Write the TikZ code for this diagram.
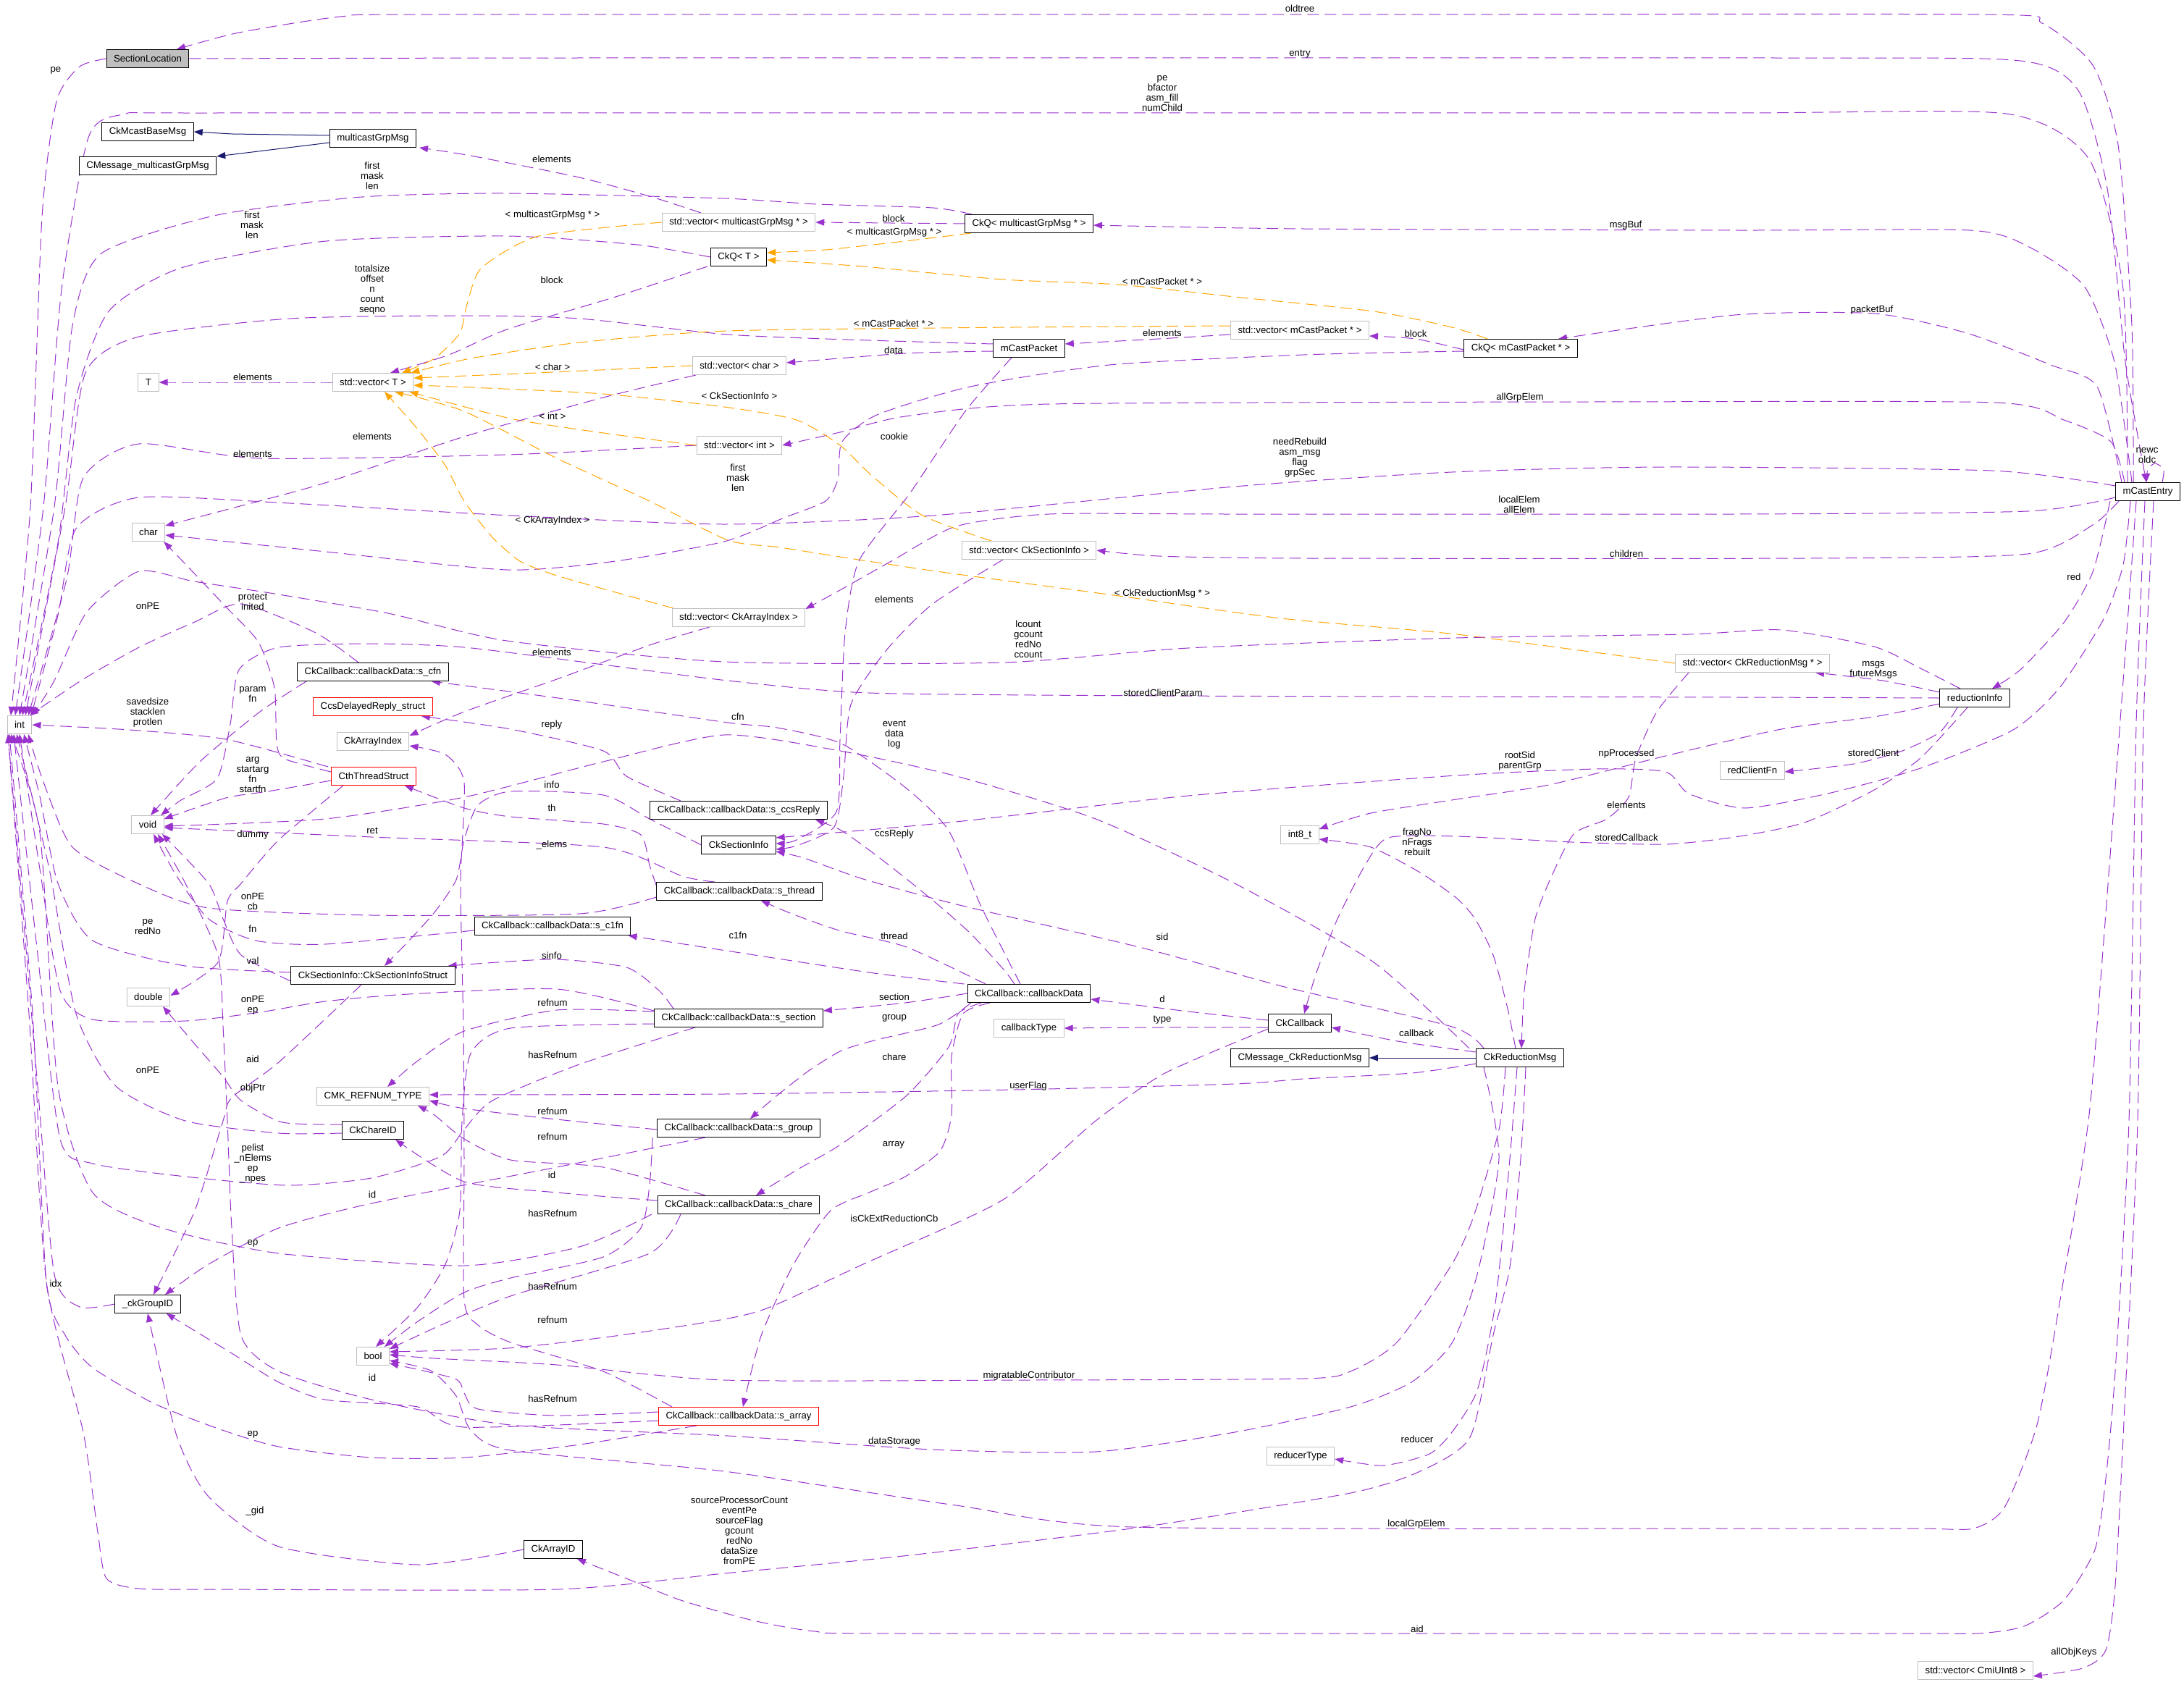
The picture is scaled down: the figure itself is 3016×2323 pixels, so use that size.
\documentclass[tikz,border=0pt]{standalone}
\usepackage{fontspec}
\setmainfont{Liberation Sans}
\usetikzlibrary{arrows.meta}
\pgfdeclarelayer{bg}
\pgfsetlayers{bg,main}
\definecolor{pur}{HTML}{9A32CD}
\definecolor{org}{HTML}{FFA500}
\definecolor{navyb}{HTML}{191970}
\definecolor{gbord}{HTML}{BFBFBF}
\tikzset{
 box/.style={draw=black, line width=0.5pt, fill=white, inner xsep=5pt, inner ysep=0pt, minimum height=12.5pt, font=\fontsize{6.6}{7}\selectfont},
 gbox/.style={box, draw=gbord},
 rbox/.style={box, draw=red},
 lbl/.style={font=\fontsize{6.6}{7}\selectfont, align=center, inner sep=0pt},
 e/.style={draw=pur, line width=0.5pt, dash pattern=on 8pt off 4pt, -{Triangle[length=6pt,width=4.5pt]}},
 eo/.style={e, draw=org},
 inh/.style={draw=navyb, line width=0.5pt, -{Triangle[length=6pt,width=4.5pt]}},
}
\newcommand{\cedge}[2][e]{\draw[#1] plot[smooth,tension=0.4] coordinates {#2};}
\newcommand{\lab}[3]{\node[lbl] (#1) at (#2) {#3};}
\begin{document}
\begin{tikzpicture}[x=0.5pt,y=-0.5pt]
\useasboundingbox (0,0) rectangle (3016,2323);
% ---------------- nodes
\node[box, fill=gbord] (SL) at (204,81) {SectionLocation};
\node[box] (CMB) at (204,182) {CkMcastBaseMsg};
\node[box] (CMM) at (204,229) {CMessage\_multicastGrpMsg};
\node[box] (MGM) at (515,191) {multicastGrpMsg};
\node[gbox] (VMG) at (1020,307) {std::vector< multicastGrpMsg * >};
\node[box] (QMG) at (1421,309) {CkQ< multicastGrpMsg * >};
\node[box] (QT) at (1020,355) {CkQ< T >};
\node[gbox] (T) at (205,528) {T};
\node[gbox] (VT) at (515,528) {std::vector< T >};
\node[gbox] (VC) at (1021,505) {std::vector< char >};
\node[box] (MCP) at (1421,481) {mCastPacket};
\node[gbox] (VMP) at (1795,456) {std::vector< mCastPacket * >};
\node[box] (QMP) at (2100,481) {CkQ< mCastPacket * >};
\node[gbox] (VI) at (1021,615) {std::vector< int >};
\node[gbox] (CH) at (205,735) {char};
\node[box] (ME) at (2966,679) {mCastEntry};
\node[gbox] (VCSI) at (1421,760) {std::vector< CkSectionInfo >};
\node[gbox] (VCAI) at (1020,853) {std::vector< CkArrayIndex >};
\node[gbox] (INT) at (27,1001) {int};
\node[box] (SCFN) at (515,928) {CkCallback::callbackData::s\_cfn};
\node[rbox] (CDR) at (515,976) {CcsDelayedReply\_struct};
\node[gbox] (CAI) at (515,1024) {CkArrayIndex};
\node[rbox] (CTS) at (516,1072) {CthThreadStruct};
\node[gbox] (VOID) at (204,1139) {void};
\node[box] (SCR) at (1020,1119) {CkCallback::callbackData::s\_ccsReply};
\node[box] (CSI) at (1020,1167) {CkSectionInfo};
\node[box] (STH) at (1021,1231) {CkCallback::callbackData::s\_thread};
\node[box] (SC1) at (763,1279) {CkCallback::callbackData::s\_c1fn};
\node[box] (CSIS) at (515,1347) {CkSectionInfo::CkSectionInfoStruct};
\node[gbox] (DBL) at (205,1377) {double};
\node[box] (CBD) at (1421,1372) {CkCallback::callbackData};
\node[box] (SSEC) at (1020,1406) {CkCallback::callbackData::s\_section};
\node[gbox] (CBT) at (1421,1420) {callbackType};
\node[box] (CKCB) at (1795,1413) {CkCallback};
\node[box] (CMR) at (1795,1461) {CMessage\_CkReductionMsg};
\node[box] (CRM) at (2099,1461) {CkReductionMsg};
\node[gbox] (I8) at (1795,1153) {int8\_t};
\node[gbox] (VCRM) at (2420,916) {std::vector< CkReductionMsg * >};
\node[box] (RI) at (2727,964) {reductionInfo};
\node[gbox] (RCF) at (2420,1064) {redClientFn};
\node[gbox] (CMK) at (515,1514) {CMK\_REFNUM\_TYPE};
\node[box] (CID) at (515,1561) {CkChareID};
\node[box] (SGRP) at (1020,1558) {CkCallback::callbackData::s\_group};
\node[box] (SCHR) at (1020,1664) {CkCallback::callbackData::s\_chare};
\node[box] (GID) at (204,1801) {\_ckGroupID};
\node[gbox] (BOOL) at (515,1873) {bool};
\node[rbox] (SARR) at (1020,1956) {CkCallback::callbackData::s\_array};
\node[box] (CAID) at (764,2140) {CkArrayID};
\node[gbox] (RT) at (1796,2011) {reducerType};
\node[gbox] (VCMI) at (2728,2307) {std::vector< CmiUInt8 >};
% ---------------- edges
\begin{pgfonlayer}{bg}
\fill[white] (0,0) rectangle (3016,2323);
% mCastEntry fan
\cedge{([xshift=-10pt]ME.north) (2944,450) (2925,200) (2890,90) (2820,32) (2740,20) (1800,20) (600,20) (470,23) (330,45) ([xshift=20pt]SL.north)}
\cedge{(SL.east) (800,80) (2450,80) (2790,84) (2870,125) (2910,260) (2935,500) ([xshift=-1pt]ME.north)}
\cedge{(SL.west) (110,92) (78,140) (58,300) (42,700) ([xshift=-6pt]INT.north)}
\cedge{([xshift=-14pt]ME.north) (2932,400) (2885,220) (2770,157) (2400,156) (1600,156) (300,156) (170,158) (122,190) (85,400) (60,700) ([xshift=-3pt]INT.north)}
\cedge{([xshift=5pt]QMG.north west) (1288,287) (1128,282) (1000,274) (700,267) (500,272) (300,297) (140,350) (100,450) (75,700) (INT.north)}
\cedge{(QT.west) (880,338) (700,326) (450,333) (250,370) (150,430) (105,550) (80,750) ([xshift=2pt]INT.north)}
\cedge{([yshift=3pt]MCP.west) (1200,470) (1005,462) (800,440) (641,436) (400,440) (192,465) (118,515) (90,700) ([xshift=4pt]INT.north)}
\cedge{(VI.west) (700,628) (359,633) (192,613) (115,660) (92,800) ([xshift=6pt]INT.north)}
\cedge{([yshift=4pt]ME.west) (2750,650) (2300,645) (2005,652) (1705,672) (1288,712) (1000,724) (705,712) (400,695) (192,687) (105,730) (80,850) ([xshift=8pt]INT.north)}
\cedge{([yshift=-2pt]QMP.west) (1800,490) (1532,504) (1340,534) (1211,573) (1163,610) (1157,662) (1140,692) (1083,715) (1000,748) (850,775) (700,787) (450,762) ([yshift=-2pt]CH.east)}
\cedge{([xshift=-16pt]ME.north) (2915,610) (2850,580) (2755,556) (2200,555) (1450,558) (1250,575) (1160,597) (VI.east)}
\cedge{([yshift=-4pt]ME.west) (2800,706) (2400,710) (1700,710) (1449,710) (1320,727) (1231,775) (1160,815) ([yshift=6pt]VCAI.east)}
\cedge{([xshift=-20pt]ME.south) (2890,725) (2800,765) (2500,771) (1800,771) (1600,768) (VCSI.east)}
\cedge{([xshift=-26pt]ME.south) (2890,790) (2850,860) (2790,925) ([xshift=12pt]RI.north)}
\cedge{([xshift=-12pt]ME.south) (2932,780) (2905,855) (2844,950) (2780,1008) (2652,1061) (2524,1096) (2409,1116) (2332,1096) (2300,1066) (2204,1062) (2011,1071) (1641,1099) (1320,1135) ([yshift=5pt]CSI.east)}
\cedge{([xshift=-8pt]ME.south) (2935,900) (2905,1300) (2884,1548) (2845,1795) (2813,1968) (2768,2082) (2725,2111) (2650,2111) (2400,2111) (1564,2109) (1320,2079) (1000,2032) (705,2003) (650,1975) (630,1928) (595,1893) ([yshift=-3pt]BOOL.east)}
\cedge{([xshift=-2pt]ME.south) (2950,1000) (2940,1548) (2921,1894) (2908,2042) (2893,2140) (2850,2210) (2795,2246) (2730,2256) (2600,2256) (1250,2256) (1125,2253) (1040,2238) (940,2210) (860,2178) ([xshift=-4pt]CAID.south east)}
\cedge{([xshift=4pt]ME.south) (2960,1000) (2952,1548) (2934,1943) (2921,2190) (2908,2279) (2876,2304) ([yshift=-4pt]VCMI.east)}
\cedge{([xshift=10pt]ME.north) (2988,648) (2976,640) (2966,648) ([xshift=-1pt]ME.north)}
\cedge{([xshift=-11pt]ME.north) (2920,500) (2878,395) (2800,340) (2720,318) (2400,318) (1800,316) ([yshift=-1pt]QMG.east)}
\cedge{([xshift=-18pt]ME.north) (2896,534) (2832,504) (2716,460) (2588,433) (2396,435) ([xshift=26pt]QMP.north)}
% top middle
\cedge{([yshift=-1pt]QMP.west) (1955,468) ([yshift=-4pt]VMP.east)}
\cedge{([yshift=-3pt]VMP.west) (1600,468) ([yshift=3pt]MCP.east)}
\cedge{([yshift=-2pt]MCP.west) (1250,488) ([yshift=2pt]VC.east)}
\cedge{(QMG.west) (1230,308) (VMG.east)}
\cedge{([xshift=-26pt]VMG.north) (900,272) (800,245) (650,215) ([xshift=2pt]MGM.south east)}
\cedge{([xshift=-2pt]QT.south west) (850,410) (700,455) (620,490) ([xshift=12pt]VT.north)}
\cedge[eo]{(VMG.west) (744,326) (665,370) (645,420) (635,460) (600,495) ([xshift=20pt]VT.north)}
\cedge[eo]{([xshift=-40pt]QMG.south) (1250,333) (1140,345) ([yshift=3pt]QT.east)}
\cedge[eo]{([xshift=-23pt]QMP.north) (2005,452) (1897,430) (1705,410) (1545,393) (1385,386) (1192,368) ([yshift=-2pt]QT.east)}
\cedge[eo]{([yshift=3pt]VMP.west) (1400,452) (1005,457) (800,473) (650,495) ([xshift=-2pt]VT.north east)}
\cedge[eo]{(VC.west) (763,514) ([yshift=3pt]VT.east)}
\cedge[eo]{([xshift=-26pt]VCSI.north) (1274,712) (1204,657) (1160,615) (1100,580) (1000,562) (833,544) (650,535) ([yshift=-2pt]VT.east)}
\cedge[eo]{(VI.west) (833,598) (705,578) ([xshift=-3pt]VT.south east)}
\cedge[eo]{(VCRM.west) (2011,876) (1769,854) (1538,822) (1300,790) (1179,772) (1077,756) (1005,746) (897,692) (769,633) (641,568) ([xshift=15pt]VT.south)}
\cedge[eo]{([xshift=-45pt]VCAI.north) (850,818) (769,795) (718,775) (679,741) (641,692) (615,643) (577,593) ([xshift=8pt]VT.south)}
\cedge{(VT.west) (350,528) (T.east)}
\cedge{([xshift=-30pt]VC.south) (833,549) (641,603) (449,667) (320,702) ([yshift=-2pt]CH.north east)}
\cedge{([xshift=-20pt]VCAI.south) (900,890) (769,938) (641,983) ([yshift=4pt]CAI.east)}
\cedge{([xshift=-12pt]MCP.south) (1333,568) (1256,682) (1186,775) (1167,874) (1160,1022) (1155,1121) (1100,1160) ([yshift=1pt]CSI.east)}
\cedge{([xshift=-18pt]VCSI.south) (1288,834) (1224,898) (1175,973) (1165,1072) (1152,1142) (1100,1168) ([yshift=-3pt]CSI.east)}
\cedge{([xshift=-25pt]CRM.north) (2005,1418) (1770,1362) (1577,1309) (1321,1249) (1192,1214) (1110,1185) ([yshift=2pt]CSI.south east)}
\cedge{([xshift=-35pt]CRM.north) (1897,1329) (1705,1220) (1513,1131) (1321,1072) (1160,1037) (1000,1015) (833,1052) (641,1101) (449,1131) ([yshift=-1pt]VOID.east)}
% callbackData
\cedge{([xshift=-6pt]CBD.north) (1354,1250) (1310,1147) (1252,1089) (1162,1027) (1073,1005) (1005,998) (800,968) ([xshift=-12pt]SCFN.south east)}
\cedge{([xshift=-10pt]CBD.north) (1386,1339) (1341,1290) (1296,1250) (1252,1214) (1207,1179) (1162,1147) ([xshift=53pt]SCR.south)}
\cedge{([xshift=-30pt]CBD.north) (1252,1308) (1162,1286) (1096,1263) ([xshift=15pt]STH.south)}
\cedge{([xshift=-2pt]CBD.north west) (1207,1344) (1029,1317) ([xshift=-2pt]SC1.south east)}
\cedge{(CBD.west) (1250,1385) ([yshift=5pt]SSEC.east)}
\cedge{([xshift=-40pt]CBD.south) (1296,1415) (1207,1437) (1162,1451) (1118,1478) (1073,1513) ([xshift=8pt]SGRP.north)}
\cedge{([xshift=-33pt]CBD.south) (1323,1400) (1310,1446) (1252,1513) (1162,1580) (1100,1616) ([xshift=12pt]SCHR.north)}
\cedge{([xshift=-27pt]CBD.south) (1330,1400) (1314,1460) (1314,1540) (1298,1590) (1250,1625) (1200,1647) (1147,1672) (1096,1746) (1051,1845) ([xshift=3pt]SARR.north)}
\cedge{([yshift=2pt]CKCB.west) (1641,1397) ([yshift=-4pt]CBD.east)}
\cedge{([yshift=-3pt]CKCB.west) (1600,1419) (CBT.east)}
\draw[inh] (CRM.west) -- (CMR.east);
\cedge{([yshift=4pt]CRM.west) (1930,1438) ([yshift=-3pt]CKCB.east)}
% reductionInfo
\cedge{([xshift=-5pt]RI.south) (2652,1047) (2588,1091) (2492,1136) (2396,1156) (2300,1166) (2171,1163) (2011,1155) (1917,1157) (1885,1195) (1847,1269) (1818,1343) ([xshift=3pt]CKCB.north)}
\cedge{([yshift=-4pt]RI.west) (2588,990) (2460,1007) (2300,1044) (2139,1084) (2011,1104) (1893,1123) ([yshift=4pt]I8.east)}
\cedge{([xshift=-3pt]CRM.north) (2082,1393) (2062,1319) (2037,1269) (2011,1240) (1961,1205) (1893,1170) ([yshift=-3pt]I8.east)}
\cedge{([xshift=-44pt]VCRM.south) (2288,983) (2259,1047) (2249,1101) (2219,1131) (2174,1151) (2145,1205) (2120,1269) (2105,1368) ([xshift=1pt]CRM.north)}
\cedge{([yshift=4pt]RI.west) (2600,940) ([xshift=-10pt]VCRM.south east)}
\cedge{([xshift=-12pt]RI.south) (2679,1011) (2627,1037) (2560,1055) ([yshift=-1pt]RCF.east)}
\cedge{([xshift=-10pt]RI.north) (2652,923) (2588,893) (2460,870) (2332,876) (2011,881) (1641,895) (1385,915) (1000,914) (700,885) (536,847) (379,820) (268,803) (192,789) (120,845) (75,940) ([xshift=9pt]INT.north)}
\cedge{(RI.west) (2400,963) (1606,961) (1200,957) (1005,940) (833,918) (641,894) (513,889) (385,894) (330,925) (318,1000) (300,1075) (250,1105) ([xshift=9pt]VOID.north)}
% left-middle
\cedge{([xshift=-2pt]CTS.north west) (312,1021) (179,1008) (INT.east)}
\cedge{([yshift=-3pt]CTS.west) (370,1093) (312,1102) ([yshift=4pt]VOID.east)}
\cedge{([xshift=-21pt]CTS.south) (385,1160) (333,1220) (314,1245) (301,1329) ([yshift=1pt]DBL.east)}
\cedge{([yshift=3pt]CTS.west) (393,1048) (382,1026) (379,950) (357,887) (312,838) ([xshift=-1pt]CH.south east)}
\cedge{([xshift=-10pt]SCFN.north) (436,874) (333,834) (269,859) (192,894) (115,938) ([xshift=7pt]INT.north)}
\cedge{([xshift=-46pt]SCFN.south) (359,983) (276,1052) ([xshift=2pt]VOID.north)}
\cedge{([yshift=-4pt]STH.west) (800,1262) (513,1264) (288,1254) (190,1220) (100,1170) (60,1080) ([xshift=6pt]INT.south)}
\cedge{([xshift=-17pt]STH.north) (942,1210) (833,1170) (513,1156) ([yshift=-2pt]VOID.east)}
\cedge{([yshift=4pt]STH.west) (897,1195) (885,1153) (833,1138) (705,1128) (641,1116) ([xshift=-8pt]CTS.south east)}
\cedge{([xshift=-40pt]SCR.north) (865,1072) (833,1037) (705,1007) ([xshift=-8pt]CDR.south east)}
\cedge{(CSI.west) (897,1131) (833,1098) (705,1093) (660,1112) (641,1160) (630,1215) (600,1260) (564,1300) ([xshift=8pt]CSIS.north)}
\cedge{([xshift=-45pt]SSEC.north) (910,1368) (865,1336) (763,1325) ([xshift=-5pt]CSIS.north east)}
\cedge{([yshift=-3pt]SC1.west) (449,1304) (353,1299) (288,1269) (244,1210) ([xshift=4pt]VOID.south)}
\cedge{([yshift=-4pt]CSIS.west) (333,1319) (308,1269) (288,1220) ([xshift=10pt]VOID.south)}
\cedge{([yshift=2pt]CSIS.west) (256,1334) (128,1299) (80,1220) (55,1100) ([xshift=3pt]INT.south)}
\cedge{([xshift=-8pt]CSIS.south) (385,1467) (320,1516) (308,1548) (269,1672) ([xshift=4pt]GID.north)}
% lower middle
\cedge{([yshift=5pt]SSEC.west) (769,1366) (564,1373) (449,1383) (359,1398) (256,1410) (128,1408) (83,1368) (55,1200) (INT.south)}
\cedge{([yshift=-2pt]SSEC.north west) (769,1395) (641,1424) (577,1465) ([xshift=10pt]CMK.north)}
\cedge{([yshift=-4pt]SSEC.west) (705,1420) (650,1455) (638,1550) (635,1672) (615,1746) (577,1805) ([xshift=2pt]BOOL.north)}
\cedge{([xshift=-30pt]SSEC.south) (800,1470) (680,1520) (641,1560) (609,1597) (513,1627) (397,1637) (256,1625) (128,1607) (83,1573) (50,1300) ([xshift=-4pt]INT.south)}
\cedge{([xshift=-46pt]SARR.north) (833,1894) (705,1854) (660,1830) (641,1795) (641,1600) (640,1420) (636,1220) (641,1081) (615,1042) ([yshift=-3pt]CAI.east)}
\cedge{([yshift=-1pt]SGRP.west) (769,1546) (641,1531) ([yshift=-3pt]CMK.east)}
\cedge{([xshift=-23pt]SCHR.north) (833,1612) (705,1602) (641,1573) (600,1540) ([xshift=-8pt]CMK.south east)}
\cedge{([yshift=-4pt]CRM.west) (1950,1482) (1800,1490) (1705,1497) (1400,1505) (1000,1511) ([yshift=1pt]CMK.east)}
\cedge{([yshift=3pt]SCHR.west) (769,1647) (641,1632) ([xshift=-6pt]CID.south east)}
\cedge{([xshift=-23pt]SGRP.south) (769,1612) (513,1662) (385,1696) (288,1746) ([xshift=12pt]GID.north)}
\cedge{([xshift=-3pt]SGRP.south west) (897,1637) (885,1696) (833,1736) (705,1765) (641,1785) (577,1825) ([xshift=8pt]BOOL.north)}
\cedge{([xshift=-40pt]SCHR.south) (897,1731) (705,1790) (609,1830) ([yshift=5pt]BOOL.east)}
\cedge{([xshift=-60pt]SCHR.south) (800,1722) (641,1748) (385,1731) (224,1696) (128,1647) (80,1500) (55,1150) ([xshift=-6pt]INT.south)}
\cedge{([yshift=-2pt]CID.west) (385,1565) (256,1548) (160,1500) (105,1400) (68,1200) ([xshift=-2pt]INT.south)}
\cedge{([yshift=4pt]CID.west) (390,1550) (333,1520) (308,1487) (269,1442) ([xshift=10pt]DBL.south)}
% CkReductionMsg bottom
\cedge{([xshift=-25pt]CRM.south) (2070,1600) (2040,1760) (2005,1855) (1949,1909) (1865,1943) (1705,1978) (1513,2005) (1288,2002) (1005,1983) (705,1968) (513,1933) (385,1894) (333,1845) (320,1696) (314,1548) (308,1417) (301,1319) (256,1220) ([xshift=7pt]VOID.south)}
\cedge{([xshift=-10pt]CRM.south) (2070,1560) (2035,1680) (2005,1746) (1929,1854) (1865,1894) (1801,1904) (1421,1906) (1000,1906) (769,1885) (600,1876) ([yshift=1pt]BOOL.east)}
\cedge{([xshift=-2pt]CRM.south) (2085,1600) (2065,1800) (2040,1920) (2005,1978) (1974,2008) (1910,2024) ([yshift=-2pt]RT.east)}
\cedge{([xshift=4pt]CRM.south) (2100,1600) (2085,1750) (2062,1844) (2030,1985) (1961,2032) (1865,2062) (1577,2109) (1256,2148) (1000,2173) (769,2195) (300,2195) (192,2194) (147,2180) (135,2116) (115,1978) (64,1770) (40,1400) ([xshift=-8pt]INT.south)}
\cedge{(CAID.west) (577,2161) (385,2136) (288,2067) (244,1983) (GID.south)}
\cedge{(GID.west) (110,1805) (75,1760) (52,1500) ([xshift=-8pt]INT.south)}
\cedge{([xshift=-29pt]SARR.south) (801,1995) (641,2013) (513,2013) (385,1998) (301,1973) (212,1938) (128,1889) (90,1844) (64,1770) (45,1400) ([xshift=-7pt]INT.south)}
\cedge{([yshift=-3pt]SARR.west) (641,1971) (577,1943) (449,1933) (385,1909) (320,1869) ([xshift=-10pt]GID.south east)}
\cedge{([yshift=3pt]SARR.west) (769,1955) (660,1946) (641,1924) (628,1904) ([yshift=-5pt]BOOL.east)}
\cedge{([yshift=-4pt]CKCB.west) (1609,1482) (1513,1548) (1385,1657) (1192,1746) (1064,1805) (1000,1822) (850,1845) (700,1862) ([yshift=3pt]BOOL.east)}
% inheritance
\draw[inh] ([yshift=2pt]MGM.west) -- (321,185) -- (CMB.east);
\draw[inh] ([yshift=-3pt]MGM.west) -- (CMM.north east);
\end{pgfonlayer}
% ---------------- labels
\lab{L1}{1795,12}{oldtree}
\lab{L2}{1795,75}{entry}
\lab{L3}{77,97}{pe}
\lab{L4}{1605,129}{pe\\bfactor\\asm\_fill\\numChild}
\lab{L5}{762,220}{elements}
\lab{L6}{514,243}{first\\mask\\len}
\lab{L7}{1234,302}{block}
\lab{L8}{763,297}{< multicastGrpMsg * >}
\lab{L9}{1235,321}{< multicastGrpMsg * >}
\lab{L10}{348,311}{first\\mask\\len}
\lab{L11}{2245,311}{msgBuf}
\lab{L12}{762,387}{block}
\lab{L13}{1605,389}{< mCastPacket * >}
\lab{L14}{514,400}{totalsize\\offset\\n\\count\\seqno}
\lab{L15}{2585,428}{packetBuf}
\lab{L16}{1234,447}{< mCastPacket * >}
\lab{L17}{1605,460}{elements}
\lab{L18}{1955,461}{block}
\lab{L19}{1234,484}{data}
\lab{L20}{763,507}{< char >}
\lab{L21}{349,521}{elements}
\lab{L22}{1021,547}{< CkSectionInfo >}
\lab{L23}{2099,549}{allGrpElem}
\lab{L24}{763,575}{< int >}
\lab{L25}{514,603}{elements}
\lab{L26}{1235,603}{cookie}
\lab{L27}{349,627}{elements}
\lab{L28}{2965,629}{newc\\oldc}
\lab{L29}{1795,632}{needRebuild\\asm\_msg\\flag\\grpSec}
\lab{L30}{1019,660}{first\\mask\\len}
\lab{L31}{2098,697}{localElem\\allElem}
\lab{L32}{763,719}{< CkArrayIndex >}
\lab{L33}{2246,765}{children}
\lab{L34}{2864,797}{red}
\lab{L35}{1605,820}{< CkReductionMsg * >}
\lab{L36}{1235,828}{elements}
\lab{L37}{349,831}{protect\\inited}
\lab{L38}{204,837}{onPE}
\lab{L39}{1420,883}{lcount\\gcount\\redNo\\ccount}
\lab{L40}{762,901}{elements}
\lab{L41}{2587,925}{msgs\\futureMsgs}
\lab{L42}{1606,957}{storedClientParam}
\lab{L43}{349,959}{param\\fn}
\lab{L44}{204,984}{savedsize\\stacklen\\protlen}
\lab{L45}{1019,990}{cfn}
\lab{L46}{762,1001}{reply}
\lab{L47}{1235,1015}{event\\data\\log}
\lab{L48}{2587,1040}{storedClient}
\lab{L49}{2246,1041}{npProcessed}
\lab{L50}{2099,1051}{rootSid\\parentGrp}
\lab{L51}{349,1070}{arg\\startarg\\fn\\startfn}
\lab{L52}{762,1084}{info}
\lab{L53}{2246,1112}{elements}
\lab{L54}{762,1116}{th}
\lab{L55}{514,1147}{ret}
\lab{L56}{1235,1152}{ccsReply}
\lab{L57}{349,1153}{dummy}
\lab{L58}{2246,1157}{storedCallback}
\lab{L59}{1957,1163}{fragNo\\nFrags\\rebuilt}
\lab{L60}{762,1167}{\_elems}
\lab{L61}{349,1245}{onPE\\cb}
\lab{L62}{204,1280}{pe\\redNo}
\lab{L63}{349,1283}{fn}
\lab{L64}{1019,1292}{c1fn}
\lab{L65}{1235,1293}{thread}
\lab{L66}{1605,1294}{sid}
\lab{L67}{762,1320}{sinfo}
\lab{L68}{349,1327}{val}
\lab{L69}{1235,1377}{section}
\lab{L70}{1605,1380}{d}
\lab{L71}{349,1388}{onPE\\ep}
\lab{L72}{763,1385}{refnum}
\lab{L73}{1235,1406}{group}
\lab{L74}{1605,1409}{type}
\lab{L75}{1956,1427}{callback}
\lab{L76}{763,1457}{hasRefnum}
\lab{L77}{1235,1460}{chare}
\lab{L78}{349,1463}{aid}
\lab{L79}{204,1478}{onPE}
\lab{L80}{1420,1500}{userFlag}
\lab{L81}{349,1503}{objPtr}
\lab{L82}{763,1535}{refnum}
\lab{L83}{763,1570}{refnum}
\lab{L84}{1234,1581}{array}
\lab{L85}{349,1607}{pelist\\\_nElems\\ep\\\_npes}
\lab{L86}{762,1623}{id}
\lab{L87}{514,1650}{id}
\lab{L88}{763,1676}{hasRefnum}
\lab{L89}{1235,1683}{isCkExtReductionCb}
\lab{L90}{349,1717}{ep}
\lab{L91}{77,1773}{idx}
\lab{L92}{763,1777}{hasRefnum}
\lab{L93}{763,1823}{refnum}
\lab{L94}{1421,1900}{migratableContributor}
\lab{L95}{514,1903}{id}
\lab{L96}{763,1932}{hasRefnum}
\lab{L97}{349,1981}{ep}
\lab{L98}{1957,1988}{reducer}
\lab{L99}{1235,1991}{dataStorage}
\lab{L100}{352,2087}{\_gid}
\lab{L101}{1956,2105}{localGrpElem}
\lab{L102}{1021,2114}{sourceProcessorCount\\eventPe\\sourceFlag\\gcount\\redNo\\dataSize\\fromPE}
\lab{L103}{1957,2250}{aid}
\lab{L104}{2864,2282}{allObjKeys}
\end{tikzpicture}
\end{document}
